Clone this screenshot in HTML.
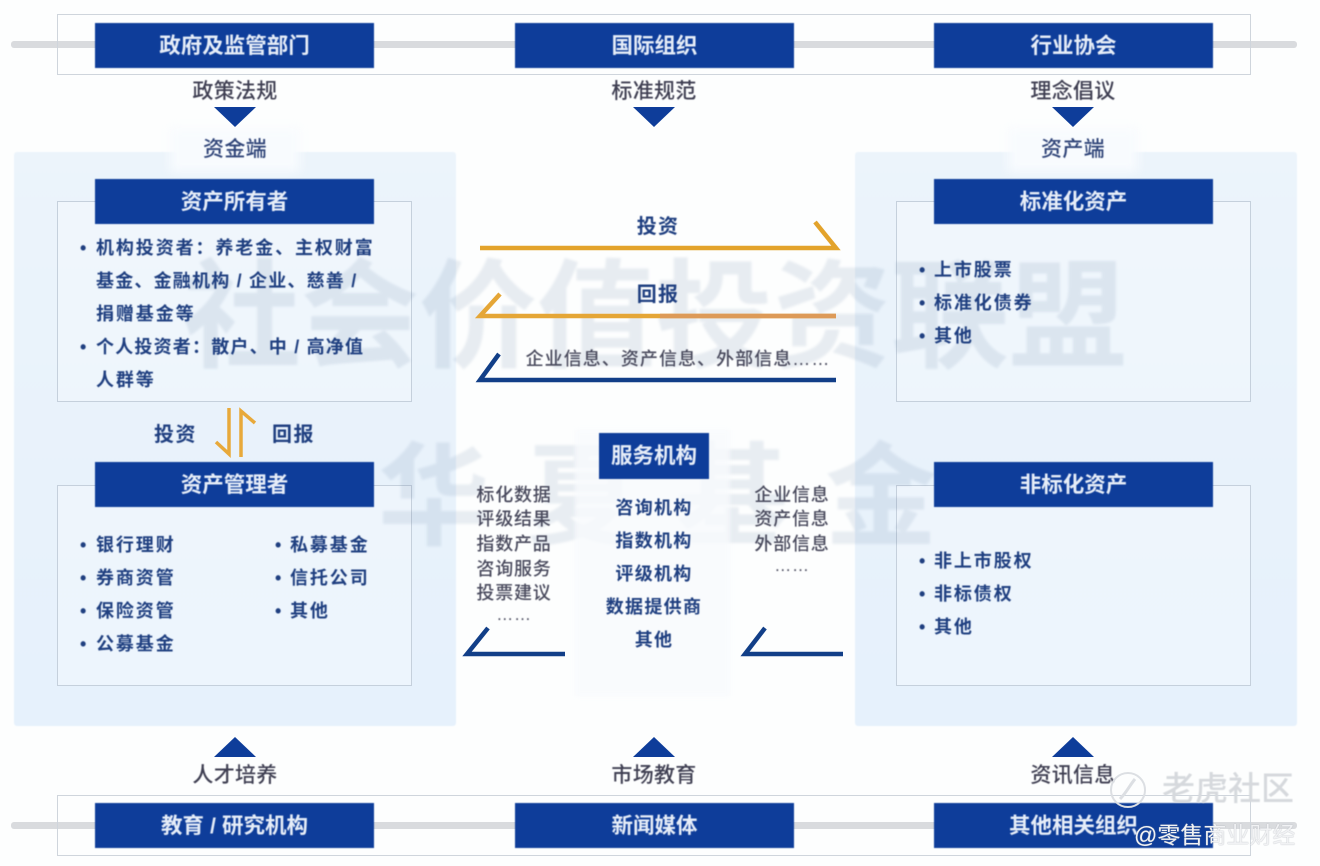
<!DOCTYPE html>
<html lang="zh"><head><meta charset="utf-8"><style>
html,body{margin:0;padding:0;background:#fdfefe}
#p{position:relative;width:1320px;height:866px;overflow:hidden;background:#fdfefe;font-family:"Liberation Sans","Noto Sans CJK SC",sans-serif}
#p div{position:absolute;box-sizing:border-box}
.panel{background:linear-gradient(#ecf4fb,#e6f1fc);border-radius:3px;filter:blur(.6px)}
.f{border:1px solid #cfd5dc}
.fi{border:1px solid #c5d0dc;background:rgba(250,252,254,.35)}
.bar{background:#d9dbde;height:7px;border-radius:3px}
.b{background:#0e3d9a;color:#e6edf8;font-size:21.5px;font-weight:700;text-align:center;line-height:46px;height:45px;width:279px;filter:blur(.4px)}
.t{white-space:nowrap;line-height:30px;height:30px;margin-top:1px;filter:blur(.45px)}
.d{color:#3f3f52;font-size:21px;font-weight:500;letter-spacing:.3px;transform:translateX(-50%)}
.n{color:#1f3f80;font-size:18px;letter-spacing:1.9px;font-weight:700}
.g{color:#48495c;font-size:18px;letter-spacing:.8px;font-weight:500;transform:translateX(-50%)}
.c{color:#1f3f80;font-size:18px;letter-spacing:1.3px;font-weight:700;transform:translateX(-50%)}
.wm{color:rgba(85,115,155,.13);font-weight:700;white-space:nowrap;filter:blur(1.3px)}
svg{position:absolute;left:0;top:0}
</style></head><body><div id="p">
<div class="panel" style="left:14px;top:152px;width:442px;height:574px"></div>
<div class="panel" style="left:855px;top:152px;width:442px;height:574px"></div>
<div style="left:170px;top:128px;width:130px;height:44px;background:#f8fbfe;filter:blur(5px)"></div>
<div style="left:1008px;top:128px;width:130px;height:44px;background:#f8fbfe;filter:blur(5px)"></div>

<div class="bar" style="left:11px;top:41px;width:1286px"></div>
<div class="bar" style="left:11px;top:822px;width:1286px"></div>
<div class="f" style="left:57px;top:14px;width:1194px;height:61px"></div>
<div class="f" style="left:57px;top:795px;width:1194px;height:61px"></div>

<div class="fi" style="left:57px;top:201px;width:355px;height:201px"></div>
<div class="fi" style="left:57px;top:485px;width:355px;height:201px"></div>
<div class="fi" style="left:896px;top:201px;width:355px;height:201px"></div>
<div class="fi" style="left:896px;top:485px;width:355px;height:201px"></div>

<div class="wm" style="left:183px;top:248px;font-size:118px;line-height:140px">社会价值投资联盟</div>
<div class="wm" style="left:378px;top:433px;font-size:112px;line-height:130px;letter-spacing:37px;color:rgba(85,115,155,.12)">华夏基金</div>

<div style="left:575px;top:430px;width:155px;height:266px;background:rgba(248,250,253,.8);filter:blur(2px)"></div>

<div class="b" style="left:95px;top:23px">政府及监管部门</div>
<div class="b" style="left:515px;top:23px">国际组织</div>
<div class="b" style="left:934px;top:23px">行业协会</div>
<div class="b" style="left:95px;top:179px">资产所有者</div>
<div class="b" style="left:934px;top:179px">标准化资产</div>
<div class="b" style="left:95px;top:462px">资产管理者</div>
<div class="b" style="left:934px;top:462px">非标化资产</div>
<div class="b" style="left:95px;top:803px">教育 / 研究机构</div>
<div class="b" style="left:515px;top:803px">新闻媒体</div>
<div class="b" style="left:934px;top:803px">其他相关组织</div>
<div class="b" style="left:599px;top:433px;width:110px;height:46px;line-height:46px">服务机构</div>

<svg width="1320" height="866" viewBox="0 0 1320 866" fill="none">
<g fill="#0e3d9a">
<path d="M214 107H256L235 127Z"/><path d="M633 107H675L654 127Z"/><path d="M1052 107H1094L1073 127Z"/>
<path d="M214 757H256L235 737Z"/><path d="M633 757H675L654 737Z"/><path d="M1052 757H1094L1073 737Z"/>
</g>
<g stroke-width="4.5" stroke-linecap="butt" stroke-linejoin="miter">
<path d="M480 248H836L815 222" stroke="#e3a32b"/>
<path d="M836 316H480L500 294" stroke="#e5a636"/>
<path d="M660 316H836" stroke="#dd9a58"/>
<path d="M836 380H480L499 354" stroke="#123f88"/>
<path d="M565 654H467L488 628" stroke="#123f88"/>
<path d="M843 654H745L765 628" stroke="#123f88"/>
<path d="M229 408V454L216 442" stroke="#e8a93a" stroke-width="3.5"/>
<path d="M241 457V411L255 423" stroke="#e8a93a" stroke-width="3.5"/>
</g>
</svg>

<div class="t d" style="left:235px;top:76px">政策法规</div>
<div class="t d" style="left:654px;top:76px">标准规范</div>
<div class="t d" style="left:1073px;top:76px">理念倡议</div>
<div class="t d" style="left:235px;top:134px;color:#2f4478">资金端</div>
<div class="t d" style="left:1073px;top:134px;color:#2f4478">资产端</div>
<div class="t d" style="left:235px;top:760px">人才培养</div>
<div class="t d" style="left:654px;top:760px">市场教育</div>
<div class="t d" style="left:1073px;top:760px">资讯信息</div>

<div class="t n" style="left:80px;top:232px">•</div>
<div class="t n" style="left:96px;top:232px">机构投资者：养老金、主权财富</div>
<div class="t n" style="left:96px;top:265px;letter-spacing:1.2px">基金、金融机构 / 企业、慈善 /</div>
<div class="t n" style="left:96px;top:298px">捐赠基金等</div>
<div class="t n" style="left:80px;top:331px">•</div>
<div class="t n" style="left:96px;top:331px;letter-spacing:1.2px">个人投资者：散户、中 / 高净值</div>
<div class="t n" style="left:96px;top:364px">人群等</div>

<div class="t n" style="left:154px;top:419px;font-size:20px;letter-spacing:1.5px">投资</div>
<div class="t n" style="left:272px;top:419px;font-size:20px;letter-spacing:1.5px">回报</div>

<div class="t n" style="left:80px;top:529px">•</div><div class="t n" style="left:96px;top:529px">银行理财</div>
<div class="t n" style="left:80px;top:562px">•</div><div class="t n" style="left:96px;top:562px">券商资管</div>
<div class="t n" style="left:80px;top:595px">•</div><div class="t n" style="left:96px;top:595px">保险资管</div>
<div class="t n" style="left:80px;top:628px">•</div><div class="t n" style="left:96px;top:628px">公募基金</div>
<div class="t n" style="left:275px;top:529px">•</div><div class="t n" style="left:290px;top:529px">私募基金</div>
<div class="t n" style="left:275px;top:562px">•</div><div class="t n" style="left:290px;top:562px">信托公司</div>
<div class="t n" style="left:275px;top:595px">•</div><div class="t n" style="left:290px;top:595px">其他</div>

<div class="t n" style="left:919px;top:254px">•</div><div class="t n" style="left:934px;top:254px">上市股票</div>
<div class="t n" style="left:919px;top:287px">•</div><div class="t n" style="left:934px;top:287px">标准化债券</div>
<div class="t n" style="left:919px;top:320px">•</div><div class="t n" style="left:934px;top:320px">其他</div>
<div class="t n" style="left:919px;top:545px">•</div><div class="t n" style="left:934px;top:545px">非上市股权</div>
<div class="t n" style="left:919px;top:578px">•</div><div class="t n" style="left:934px;top:578px">非标债权</div>
<div class="t n" style="left:919px;top:611px">•</div><div class="t n" style="left:934px;top:611px">其他</div>

<div class="t c" style="left:658px;top:211px;font-size:20px">投资</div>
<div class="t c" style="left:658px;top:279px;font-size:20px">回报</div>
<div class="t g" style="left:678px;top:343px;letter-spacing:1.05px">企业信息、资产信息、外部信息……</div>

<div class="t g" style="left:514px;top:479px">标化数据</div>
<div class="t g" style="left:514px;top:503px">评级结果</div>
<div class="t g" style="left:514px;top:528px">指数产品</div>
<div class="t g" style="left:514px;top:553px">咨询服务</div>
<div class="t g" style="left:514px;top:577px">投票建议</div>
<div class="t g" style="left:514px;top:599px;font-size:17px">……</div>

<div class="t g" style="left:792px;top:479px">企业信息</div>
<div class="t g" style="left:792px;top:503px">资产信息</div>
<div class="t g" style="left:792px;top:528px">外部信息</div>
<div class="t g" style="left:792px;top:550px;font-size:17px">……</div>

<div class="t c" style="left:654px;top:492px">咨询机构</div>
<div class="t c" style="left:654px;top:525px">指数机构</div>
<div class="t c" style="left:654px;top:558px">评级机构</div>
<div class="t c" style="left:654px;top:591px">数据提供商</div>
<div class="t c" style="left:654px;top:624px">其他</div>

<svg width="1320" height="866" viewBox="0 0 1320 866" fill="none">
<circle cx="1128" cy="790" r="17" stroke="#dcdfe3" stroke-width="2"/>
<path d="M1135 779C1130 785 1126 793 1120 799" stroke="#dcdfe3" stroke-width="3"/>
</svg>
<div style="left:1162px;top:768px;font-size:33px;line-height:42px;color:#d6d9dd;font-weight:500;white-space:nowrap;filter:blur(.5px)">老虎社区</div>
<div style="left:1134px;top:820px;font-size:23px;line-height:30px;color:#f1f2f4;white-space:nowrap;text-shadow:0 0 1px #9aa0a8">@零售商业财经</div>
</div></body></html>
